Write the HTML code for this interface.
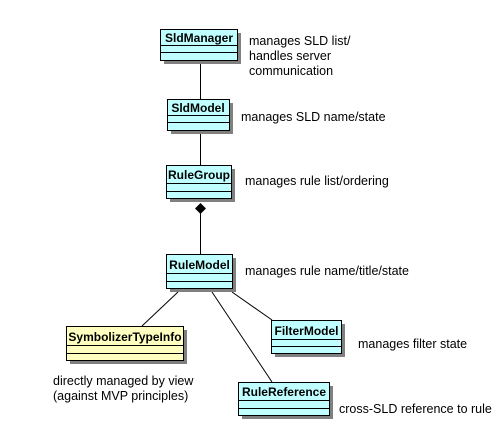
<!DOCTYPE html>
<html><head><style>
html,body{margin:0;padding:0;background:#fff;}
svg{display:block;}
text{font-family:"Liberation Sans",Arial,sans-serif;font-size:12.5px;fill:#000;}
.h{font-weight:bold;font-size:12px;}
</style></head><body>
<svg width="501" height="432" viewBox="0 0 501 432">
<g stroke="#000" stroke-width="1" fill="none">
<line x1="200.5" y1="61" x2="200.5" y2="99"/>
<line x1="200.5" y1="131" x2="200.5" y2="165"/>
<line x1="200.5" y1="213" x2="200.5" y2="254"/>
<line x1="178" y1="292" x2="142" y2="326"/>
<line x1="212" y1="292" x2="272" y2="382"/>
<line x1="232" y1="292" x2="272" y2="320"/>
</g>
<polygon points="200.5,203 206,208.5 200.5,214 195,208.5" fill="#000"/>
<g stroke="#000" stroke-width="1">
<g fill="#808080" stroke="none">
<rect x="164" y="33" width="77" height="31"/>
<rect x="171" y="103" width="62" height="31"/>
<rect x="170" y="169" width="65" height="33"/>
<rect x="170" y="258" width="66" height="34"/>
<rect x="70" y="330" width="117" height="34"/>
<rect x="275" y="324" width="70" height="33"/>
<rect x="242" y="386" width="91" height="33"/>
</g>
<g fill="#c0ffff">
<rect x="160.5" y="29.5" width="77" height="31"/><line x1="160.5" y1="45.5" x2="237.5" y2="45.5"/><line x1="160.5" y1="52.5" x2="237.5" y2="52.5"/>
<rect x="167.5" y="99.5" width="62" height="31"/><line x1="167.5" y1="115.5" x2="229.5" y2="115.5"/><line x1="167.5" y1="122.5" x2="229.5" y2="122.5"/>
<rect x="166.5" y="165.5" width="65" height="33"/><line x1="166.5" y1="183.5" x2="231.5" y2="183.5"/><line x1="166.5" y1="191.5" x2="231.5" y2="191.5"/>
<rect x="166.5" y="254.5" width="66" height="34"/><line x1="166.5" y1="273.5" x2="232.5" y2="273.5"/><line x1="166.5" y1="281.5" x2="232.5" y2="281.5"/>
<rect x="271.5" y="320.5" width="70" height="33"/><line x1="271.5" y1="339.5" x2="341.5" y2="339.5"/><line x1="271.5" y1="346.5" x2="341.5" y2="346.5"/>
<rect x="238.5" y="382.5" width="91" height="33"/><line x1="238.5" y1="400.5" x2="329.5" y2="400.5"/><line x1="238.5" y1="408.5" x2="329.5" y2="408.5"/>
</g>
<g fill="#ffffc0">
<rect x="66.5" y="326.5" width="117" height="34"/><line x1="66.5" y1="345.5" x2="183.5" y2="345.5"/><line x1="66.5" y1="353.5" x2="183.5" y2="353.5"/>
</g>
</g>
<text class="h" x="199" y="42" text-anchor="middle">SldManager</text>
<text class="h" x="198" y="112" text-anchor="middle">SldModel</text>
<text class="h" x="199" y="179" text-anchor="middle">RuleGroup</text>
<text class="h" x="199.5" y="269" text-anchor="middle">RuleModel</text>
<text class="h" x="125" y="341" text-anchor="middle">SymbolizerTypeInfo</text>
<text class="h" x="306.5" y="335" text-anchor="middle">FilterModel</text>
<text class="h" x="284" y="396" text-anchor="middle">RuleReference</text>
<text x="249" y="45">manages SLD list/</text>
<text x="249" y="60">handles server</text>
<text x="249" y="75">communication</text>
<text x="241" y="121">manages SLD name/state</text>
<text x="245" y="185">manages rule list/ordering</text>
<text x="245" y="275">manages rule name/title/state</text>
<text x="358" y="348">manages filter state</text>
<text x="339" y="413">cross-SLD reference to rule</text>
<text x="53" y="385">directly managed by view</text>
<text x="53" y="400">(against MVP principles)</text>
</svg>
</body></html>
